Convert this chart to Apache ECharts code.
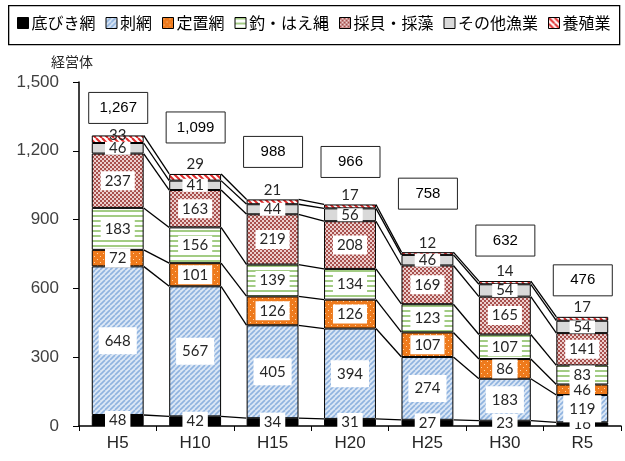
<!DOCTYPE html>
<html>
<head>
<meta charset="utf-8">
<script src="https://cdn.jsdelivr.net/npm/echarts@6/dist/echarts.min.js"></script>
<style>
  html, body { margin: 0; padding: 0; background: #fff; }
  #chart { width: 625px; height: 461px; }
</style>
</head>
<body>
<div id="chart"></div>
<script>
// Fishery management bodies by main fishery type
const categories = ['H5', 'H10', 'H15', 'H20', 'H25', 'H30', 'R5'];
const seriesNames = ['底びき網', '刺網', '定置網', '釣・はえ縄', '採貝・採藻', 'その他漁業', '養殖業'];
const sokobiki = [48, 42, 34, 31, 27, 23, 16];
const sashiami = [648, 567, 405, 394, 274, 183, 119];
const teichi = [72, 101, 126, 126, 107, 86, 46];
const tsuri = [183, 156, 139, 134, 123, 107, 83];
const saikai = [237, 163, 219, 208, 169, 165, 141];
const sonota = [46, 41, 44, 56, 46, 54, 54];
const yoshoku = [33, 29, 21, 17, 12, 14, 17];
const totals = [1267, 1099, 988, 966, 758, 632, 476];
const yTicks = [0, 300, 600, 900, 1200, 1500];

// vertical lift (px) of each total box above its stack
const totalLift = [28, 47, 48, 43, 59, 41, 37];
const BAR_RATIO = 0.67;

const seriesValues = [sokobiki, sashiami, teichi, tsuri, saikai, sonota, yoshoku];

function pattern(size, draw) {
  const c = document.createElement('canvas');
  c.width = size; c.height = size;
  const g = c.getContext('2d');
  draw(g, size);
  return { image: c, repeat: 'repeat' };
}
function diag(g, s, color, w, dir) {
  g.strokeStyle = color; g.lineWidth = w;
  for (let k = -1; k <= 1; k++) {
    g.beginPath();
    if (dir > 0) { g.moveTo(k * s, s); g.lineTo(k * s + s, 0); }
    else { g.moveTo(k * s, 0); g.lineTo(k * s + s, s); }
    g.stroke();
  }
}

const fills = [
  '#000000',
  pattern(5, (g, s) => { g.fillStyle = '#dce7f5'; g.fillRect(0, 0, s, s); diag(g, s, '#8fb3df', 1.6, 1); }),
  pattern(6, (g, s) => { g.fillStyle = '#ee7a1c'; g.fillRect(0, 0, s, s); g.fillStyle = '#ffd6a8'; g.fillRect(1, 1, 1, 1); g.fillRect(4, 4, 1, 1); }),
  pattern(5, (g, s) => { g.fillStyle = '#ffffff'; g.fillRect(0, 0, s, s); g.fillStyle = '#a3cc84'; g.fillRect(0, 0, s, 2); }),
  pattern(4, (g, s) => { g.fillStyle = '#eccfce'; g.fillRect(0, 0, s, s); g.fillStyle = '#a8504d'; g.fillRect(0, 0, 2, 2); g.fillRect(2, 2, 2, 2); }),
  '#d9d9d9',
  pattern(6, (g, s) => { g.fillStyle = '#ffffff'; g.fillRect(0, 0, s, s); diag(g, s, '#e02a2a', 2, -1); })
];

const labelFont = 'Lato, "Liberation Sans", sans-serif';

const barSeries = seriesNames.map((name, si) => {
  const values = seriesValues[si];
  const data = values.map((v, i) => {
    const item = { value: v };
    if (si === 6) {
      item.label = i > 0 ? { position: 'top', distance: 2 } : { offset: [0, -4] };
    }
    return item;
  });
  return {
    name,
    type: 'bar',
    stack: 'total',
    barWidth: (BAR_RATIO * 100) + '%',
    data,
    itemStyle: { color: fills[si], borderColor: '#000', borderWidth: 1 },
    label: {
      show: true,
      position: 'inside',
      color: '#262626',
      fontFamily: labelFont,
      fontSize: 15,
      lineHeight: si === 5 ? 13 : 15,
      backgroundColor: si === 6 ? 'transparent' : '#ffffff',
      padding: si === 1 ? [6, 6] : (si >= 5 ? [0, 4] : [2, 4])
    },
    emphasis: { disabled: true },
    z: 3
  };
});

// cumulative tops of every segment, per category
const cumTops = categories.map((_, i) => {
  let acc = 0;
  return seriesValues.map(arr => (acc += arr[i]));
});

const connectorSeries = {
  type: 'custom',
  name: 'connectors',
  silent: true,
  z: 1,
  data: categories.slice(0, -1).map((_, i) => [i, 0]),
  encode: { x: 0, y: 1 },
  renderItem(params, api) {
    const i = api.value(0);
    const half = api.size([1, 0])[0] * BAR_RATIO / 2;
    const children = cumTops[i].map((top, k) => {
      const p1 = api.coord([i, top]);
      const p2 = api.coord([i + 1, cumTops[i + 1][k]]);
      return {
        type: 'line',
        shape: { x1: p1[0] + half, y1: p1[1], x2: p2[0] - half, y2: p2[1] },
        style: { stroke: '#000', lineWidth: 1.3 }
      };
    });
    return { type: 'group', children };
  }
};

// boxed totals above each stack
const totalSeries = {
  type: 'custom',
  name: 'totals',
  silent: true,
  z: 5,
  data: totals.map((v, i) => [i, v]),
  encode: { x: 0, y: 1 },
  renderItem(params, api) {
    const i = api.value(0);
    const v = api.value(1);
    const p = api.coord([i, v]);
    return {
      type: 'group',
      children: [
        {
          type: 'rect',
          shape: { x: p[0] - 29, y: p[1] - totalLift[i] - 15, width: 59, height: 31 },
          style: { fill: '#fff', stroke: '#222', lineWidth: 1 }
        },
        {
          type: 'text',
          x: p[0] + 0.5,
          y: p[1] - totalLift[i] + 0.5,
          style: {
            text: v.toLocaleString('en-US'),
            fill: '#000',
            font: '15px "Liberation Sans", Arial, sans-serif',
            align: 'center',
            verticalAlign: 'middle'
          }
        }
      ]
    };
  }
};

const chart = echarts.init(document.getElementById('chart'), null, { renderer: 'canvas' });
chart.setOption({
  animation: false,
  backgroundColor: '#fff',
  graphic: [{
    type: 'rect',
    left: 8,
    top: 5,
    silent: true,
    shape: { width: 611, height: 39 },
    style: { fill: 'transparent', stroke: '#000', lineWidth: 1.3 }
  }],
  legend: {
    data: seriesNames,
    left: 17,
    top: 15,
    padding: 0,
    itemGap: 10,
    itemWidth: 11,
    itemHeight: 11,
    icon: 'rect',
    itemStyle: { borderColor: '#000', borderWidth: 1 },
    textStyle: { fontFamily: '"Noto Sans CJK JP", sans-serif', fontSize: 16, color: '#000', padding: [0, 0, 0, -2] },
    selectedMode: false
  },
  grid: { left: 79, right: 4, top: 82, bottom: 35 },
  xAxis: {
    type: 'category',
    data: categories,
    axisLine: { lineStyle: { color: '#000', width: 1.5 } },
    axisTick: { show: true, length: 5, lineStyle: { color: '#000' } },
    axisLabel: { fontFamily: '"Liberation Sans", Arial, sans-serif', fontSize: 17, color: '#262626', margin: 9 }
  },
  yAxis: {
    type: 'value',
    min: yTicks[0],
    max: yTicks[yTicks.length - 1],
    interval: yTicks[1] - yTicks[0],
    name: '経営体',
    nameLocation: 'end',
    nameGap: 13,
    nameTextStyle: { fontFamily: '"Noto Sans CJK JP", sans-serif', fontSize: 14, color: '#262626', padding: [0, 14, 0, 0] },
    axisLine: { show: true, lineStyle: { color: '#000', width: 1.5 } },
    axisTick: { show: true, length: 6, lineStyle: { color: '#000' } },
    splitLine: { show: false },
    axisLabel: {
      fontFamily: '"Liberation Sans", Arial, sans-serif',
      fontSize: 17,
      color: '#404040',
      margin: 20,
      formatter: v => v.toLocaleString('en-US')
    }
  },
  series: [...barSeries, connectorSeries, totalSeries]
});
</script>
</body>
</html>
